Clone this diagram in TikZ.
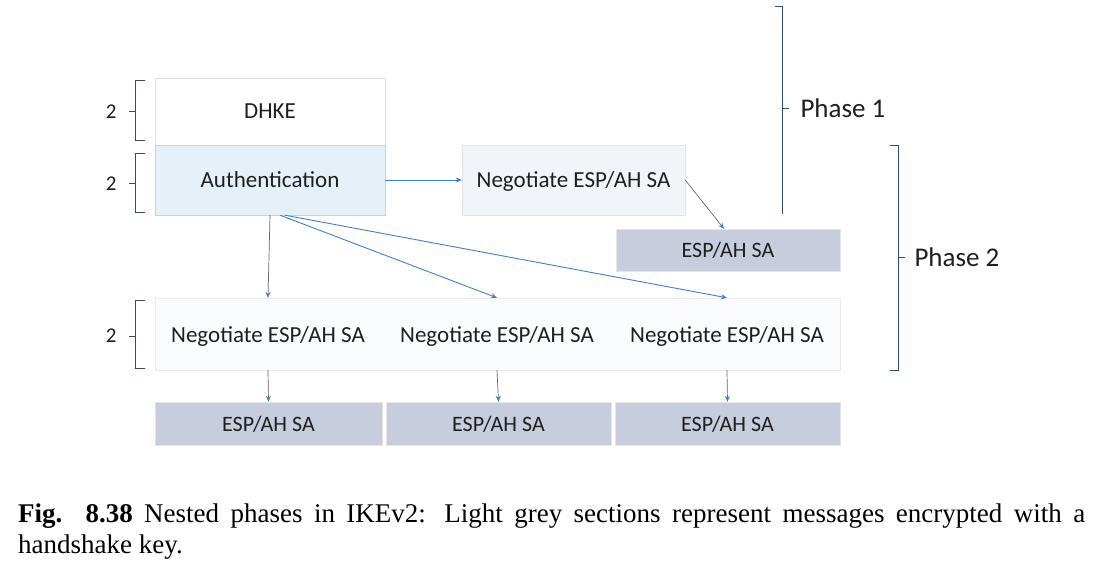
\documentclass[tikz,border=0pt]{standalone}
\usepackage{fontspec}
\setmainfont{Carlito}
\newfontfamily\capfont{Liberation Serif}
\usetikzlibrary{arrows.meta,positioning,calc}
\definecolor{authfill}{HTML}{E6F0F8}
\definecolor{negfill}{HTML}{F1F5FA}
\definecolor{rowfill}{HTML}{FAFCFD}
\definecolor{espfill}{HTML}{C7CDDD}
\definecolor{arrblue}{HTML}{3C7FD6}
\definecolor{brk}{HTML}{2E4A78}
\begin{document}
\begin{tikzpicture}[x=1pt,y=-1pt,
  every node/.style={font=\fontsize{23}{26}\selectfont, text=black!88},
  boxbase/.style={rectangle, inner sep=0pt, text depth=0pt},
  whitebox/.style={boxbase, draw=black!12, fill=white},
  authbox/.style={boxbase, draw=black!18, fill=authfill},
  negbox/.style={boxbase, draw=black!10, fill=negfill},
  rowbox/.style={boxbase, draw=black!8, fill=rowfill},
  espbox/.style={boxbase, draw=black!10, fill=espfill, font=\fontsize{22}{25}\selectfont},
  conn/.style={draw=arrblue, line width=0.9pt, -{Stealth[length=6pt,width=5pt]}},
  grayconn/.style={draw=black!60, line width=0.7pt, -{Stealth[length=6pt,width=5pt,color=arrblue]}},
  bracket/.style={draw=brk, line width=0.8pt},
  phase/.style={font=\fontsize{27}{30}\selectfont, anchor=west},
  num/.style={font=\fontsize{21}{24}\selectfont, anchor=east}
]
\useasboundingbox (0,0) rectangle (1096,568);
\fill[white] (0,0) rectangle (1096,568);

% top boxes
\node[whitebox, minimum width=230pt, minimum height=67pt] (dhke) at (270,111.5) {DHKE};
\node[authbox, minimum width=230pt, minimum height=70pt] (auth) at (270,180) {Authentication};
\node[negbox, minimum width=223pt, minimum height=70pt] (negt) at (573.5,180) {Negotiate ESP/AH SA};
\node[espbox, minimum width=224pt, minimum height=42pt] (espt) at (728,250) {ESP/AH SA};

% row of negotiations
\node[rowbox, minimum width=685pt, minimum height=72pt] (row) at (497.5,334) {};
\node (n1) at (268,336) {Negotiate ESP/AH SA};
\node (n2) at (497,336) {Negotiate ESP/AH SA};
\node (n3) at (727,336) {Negotiate ESP/AH SA};

% bottom SA boxes
\node[espbox, minimum width=227pt, minimum height=43pt] (e1) at (268.5,423.5) {ESP/AH SA};
\node[espbox, minimum width=225pt, minimum height=43pt] (e2) at (498.5,423.5) {ESP/AH SA};
\node[espbox, minimum width=225pt, minimum height=43pt] (e3) at (727.5,423.5) {ESP/AH SA};

% connectors
\draw[conn] (auth.east) -- (negt.west);
\coordinate (negout) at ($(negt.east)+(0,0)$);
\coordinate (espin) at ($(espt.north)+(-4,0)$);
\draw[grayconn] (negout) -- (espin);
\coordinate (a1) at ($(auth.south)+(0,0)$);
\coordinate (a2) at ($(auth.south)+(10,0)$);
\coordinate (a3) at ($(auth.south)+(15,0)$);
\draw[grayconn] (a1) -- (n1 |- row.north);
\draw[conn] (a2) -- (n2 |- row.north);
\draw[conn] (a3) -- (n3 |- row.north);
\draw[grayconn] (n1 |- row.south) -- (e1.north);
\draw[grayconn] (n2 |- row.south) -- (e2.north);
\draw[grayconn] (n3 |- row.south) -- (e3.north);

% left brackets
\draw[bracket] (145,80) -- (135,80) -- (135,140) -- (145,140);
\draw[bracket] (135,111) -- (129,111);
\node[num] (l1) at (120,112) {2};
\draw[bracket] (145,153) -- (135,153) -- (135,212) -- (145,212);
\draw[bracket] (135,183) -- (129,183);
\node[num] (l2) at (120,184) {2};
\draw[bracket] (145,300) -- (135,300) -- (135,368) -- (145,368);
\draw[bracket] (135,336) -- (129,336);
\node[num] (l3) at (120,336) {2};

% phase brackets
\draw[bracket] (775,6) -- (782,6) -- (782,214);
\draw[bracket] (782,108) -- (789,108);
\node[phase] (p1) at (797,108) {Phase 1};
\draw[bracket] (890,145) -- (898,145) -- (898,370) -- (890,370);
\draw[bracket] (898,257) -- (905,257);
\node[phase] (p2) at (911,257) {Phase 2};

% caption
\node[anchor=north west, inner sep=0pt, text width=1067pt, align=justify,
      font=\capfont\fontsize{27}{31}\selectfont, text=black] (cap) at (18,504)
  {\textbf{Fig. 8.38} Nested phases in IKEv2: Light grey sections represent messages encrypted with a\linebreak handshake key.};
\end{tikzpicture}
\end{document}
